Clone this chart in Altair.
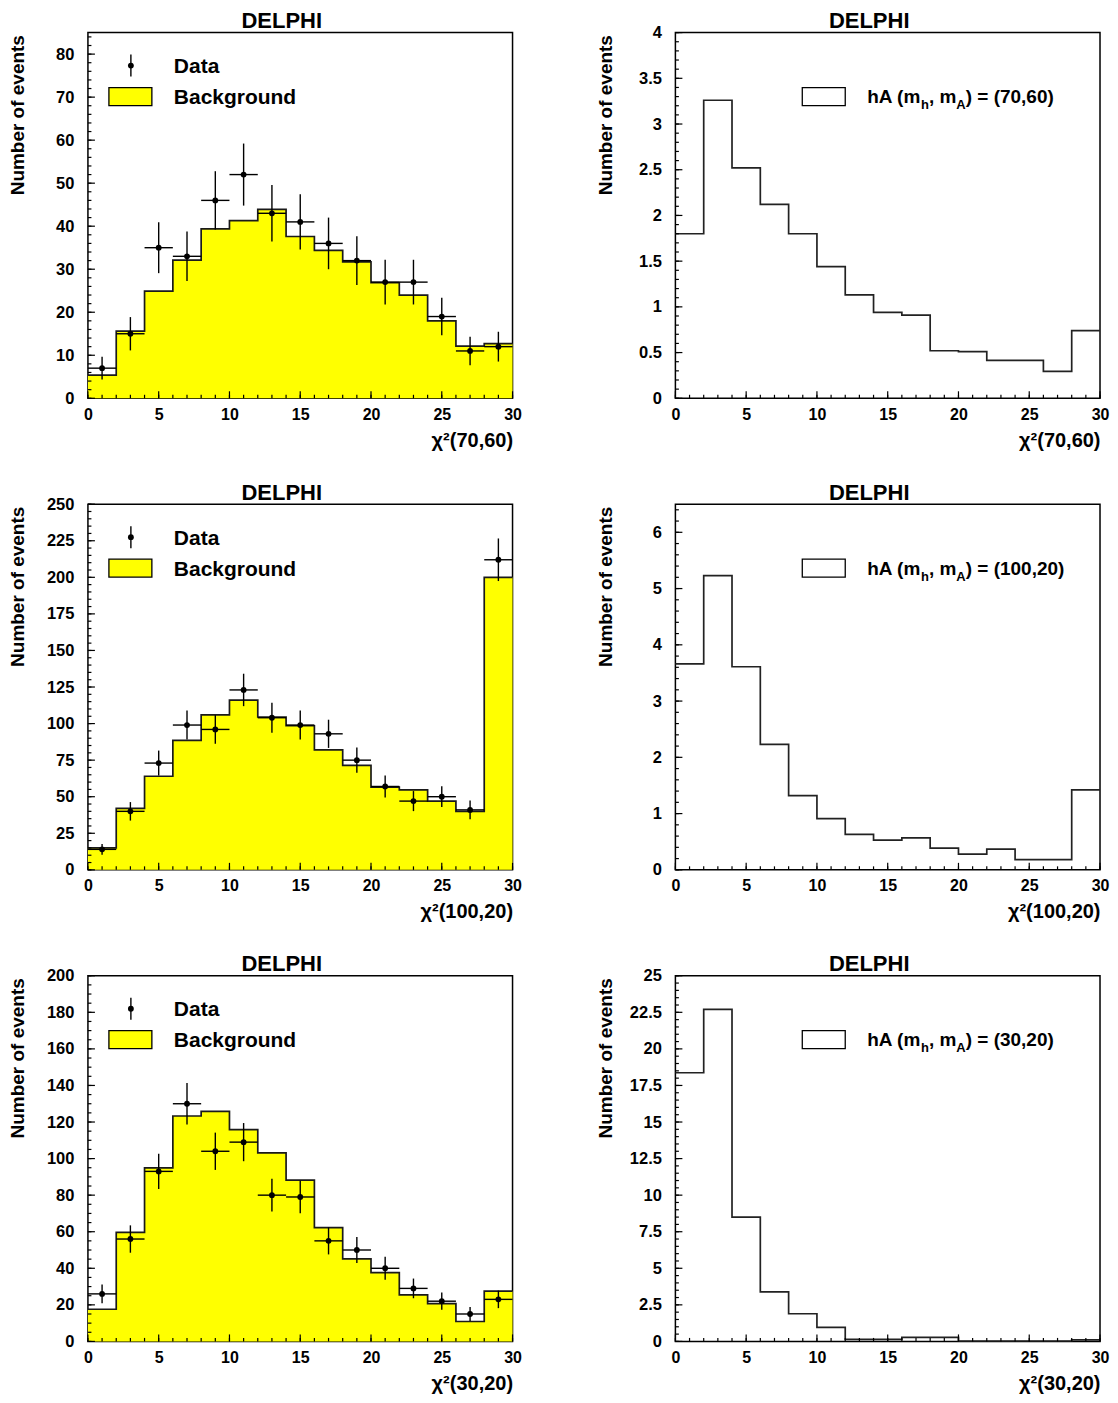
import altair as alt
import numpy as np
import pandas as pd

FONT = "Liberation Sans"
W, H = 425, 366

# ---------------- data ----------------
bin_lo = [0, 2, 4, 6, 8, 10, 12, 14, 16, 18, 20, 22, 24, 26, 28]
bin_hi = [2, 4, 6, 8, 10, 12, 14, 16, 18, 20, 22, 24, 26, 28, 30]
x_tick_labels = [0, 5, 10, 15, 20, 25, 30]

bg_70_60 = [5.4, 15.6, 24.9, 32.1, 39.4, 41.3, 43.9, 37.6, 34.4, 31.7, 26.9, 24.0, 18.0, 12.1, 12.7]
data_70_60 = [7, 15, 35, 33, 46, 52, 43, 41, 36, 32, 27, 27, 19, 11, 12]
sig_70_60 = [1.80, 3.26, 2.52, 2.12, 1.80, 1.44, 1.13, 0.94, 0.91, 0.52, 0.51, 0.415, 0.415, 0.295, 0.74]

bg_100_20 = [15, 42, 64, 88.5, 106, 116, 104.5, 98.5, 82, 71.4, 56.6, 54.7, 47, 40, 200]
data_100_20 = [14, 40, 73, 99, 96, 123, 104, 99, 93, 75, 57, 47, 50, 41, 212]
sig_100_20 = [3.66, 5.23, 3.61, 2.23, 1.32, 0.91, 0.63, 0.53, 0.57, 0.385, 0.28, 0.37, 0.18, 0.18, 1.42]

bg_30_20 = [17.6, 59.6, 94.9, 123.3, 125.8, 115.8, 103.1, 88.2, 62.2, 45.1, 37.6, 25.5, 20.7, 10.9, 27.5]
data_30_20 = [26, 56, 93, 130, 104, 109, 80, 79, 55, 50, 40, 29, 22, 15, 23]
sig_30_20 = [18.37, 22.7, 8.5, 3.39, 1.89, 0.96, 0.14, 0.14, 0.27, 0.27, 0.03, 0.03, 0.03, 0.03, 0.1]

# y axis: (max, label step, minor step)
yaxis_70_60_bg = (85, 10, 2)
yaxis_70_60_sig = (4, 0.5, 0.1)
yaxis_100_20_bg = (250, 25, 5)
yaxis_100_20_sig = (6.5, 1, 0.2)
yaxis_30_20_bg = (200, 20, 5)
yaxis_30_20_sig = (25, 2.5, 0.5)

ONE = pd.DataFrame({"o": [0]})

# ---------------- helpers ----------------
def frange(step, top):
    n = int(np.floor(top / step + 1e-9))
    return [round(i * step, 6) for i in range(n + 1)]


def scales_axes(ycfg, xtitle):
    ymax, ystep, yminor = ycfg
    xs = alt.Scale(domain=[0, 30], nice=False, zero=False)
    ys = alt.Scale(domain=[0, ymax], nice=False, zero=True)
    xaxis = alt.Axis(values=x_tick_labels, ticks=False, domain=False, grid=False,
                     labelFlush=False, labelOverlap=False, labelPadding=8,
                     labelFontSize=16, labelExpr="'' + datum.value",
                     title=xtitle, titleX=W, titleY=42,
                     titleAlign="right", titleBaseline="middle", titleAngle=0,
                     titleFontSize=20)
    yaxis = alt.Axis(values=frange(ystep, ymax), ticks=False, domain=False, grid=False,
                     labelFlush=False, labelOverlap=False, labelPadding=14,
                     labelFontSize=16.5, labelExpr="'' + datum.value",
                     title="Number of events", titleX=-70, titleY=2,
                     titleAlign="right", titleBaseline="middle", titleAngle=-90,
                     titleFontSize=19)
    return xs, ys, xaxis, yaxis


def tick_layers(xs, ys, xaxis, yaxis, ycfg):
    ymax, ystep, yminor = ycfg
    out = []
    xmaj = pd.DataFrame({"t": [0, 5, 10, 15, 20, 25, 30]})
    xmin = pd.DataFrame({"t": list(range(0, 31))})
    ymaj = pd.DataFrame({"t": frange(ystep, ymax)})
    ymin = pd.DataFrame({"t": frange(yminor, ymax)})
    for d, ln in ((xmaj, 7), (xmin, 3.5)):
        out.append(alt.Chart(d).mark_rule(color="black", strokeWidth=1.2).encode(
            x=alt.X("t:Q", scale=xs, axis=xaxis),
            y=alt.value(H), y2=alt.value(H - ln)))
    for d, ln in ((ymaj, 7), (ymin, 3.5)):
        out.append(alt.Chart(d).mark_rule(color="black", strokeWidth=1.2).encode(
            y=alt.Y("t:Q", scale=ys, axis=yaxis),
            x=alt.value(0), x2=alt.value(ln)))
    return out


def step_frame(vals):
    return pd.DataFrame({"x": bin_lo + [30], "y": list(vals) + [vals[-1]]})


def step_layer(vals, xs, ys, xaxis, yaxis, color="#1a1a1a"):
    return alt.Chart(step_frame(vals)).mark_line(interpolate="step-after", color=color,
                                                 strokeWidth=1.7).encode(
        x=alt.X("x:Q", scale=xs, axis=xaxis),
        y=alt.Y("y:Q", scale=ys, axis=yaxis))


def title_layer(txt="DELPHI"):
    return alt.Chart(ONE).mark_text(text=txt, font=FONT, fontSize=22, fontWeight="bold",
                                    align="center", baseline="top",
                                    color="black").encode(
        x=alt.value(194), y=alt.value(-21.5))


def left_panel(bg, data, ycfg, xtitle):
    xs, ys, xaxis, yaxis = scales_axes(ycfg, xtitle)
    df = pd.DataFrame({"lo": bin_lo, "hi": bin_hi, "bg": bg, "n": data})
    df["mid"] = (df["lo"] + df["hi"]) / 2
    X = lambda f: alt.X(f, type="quantitative", scale=xs, axis=xaxis)
    Y = lambda f: alt.Y(f, type="quantitative", scale=ys, axis=yaxis)
    base = alt.Chart(df)
    fill = alt.Chart(step_frame(bg)).mark_area(interpolate="step-after", color="#ffff00",
                                               opacity=1).encode(
        x=alt.X("x:Q", scale=xs, axis=xaxis), y=alt.Y("y:Q", scale=ys, axis=yaxis))
    outline = step_layer(bg, xs, ys, xaxis, yaxis)
    err = base.transform_calculate(
        elo="datum.n - sqrt(datum.n)", ehi="datum.n + sqrt(datum.n)"
    ).mark_rule(color="black", strokeWidth=1.4).encode(
        x=X("mid"), y=Y("elo:Q"), y2="ehi:Q")
    hbar = base.mark_rule(color="black", strokeWidth=1.4).encode(
        x=X("lo"), x2="hi", y=Y("n"))
    pts = base.mark_circle(size=34, color="black", opacity=1).encode(
        x=X("mid"), y=Y("n"))
    # legend
    leg = [
        alt.Chart(ONE).mark_rect(fill="#ffff00", stroke="black", strokeWidth=1.3).encode(
            x=alt.value(21), x2=alt.value(64), y=alt.value(55), y2=alt.value(73)),
        alt.Chart(ONE).mark_rule(color="black", strokeWidth=1.4).encode(
            x=alt.value(43), y=alt.value(22), y2=alt.value(44)),
        alt.Chart(ONE).mark_circle(size=34, color="black", opacity=1).encode(
            x=alt.value(43), y=alt.value(33)),
        alt.Chart(ONE).mark_text(text="Data", font=FONT, fontSize=21, fontWeight="bold",
                                 align="left", baseline="alphabetic", color="black").encode(
            x=alt.value(86), y=alt.value(40.5)),
        alt.Chart(ONE).mark_text(text="Background", font=FONT, fontSize=21, fontWeight="bold",
                                 align="left", baseline="alphabetic", color="black").encode(
            x=alt.value(86), y=alt.value(71.5)),
    ]
    layers = [fill, outline, err, hbar, pts] + tick_layers(xs, ys, xaxis, yaxis, ycfg) + leg
    layers.append(title_layer())
    return alt.layer(*layers).properties(width=W, height=H)


AW = {'h': .611, 'A': .722, ' ': .278, '(': .333, 'm': .889, ',': .278, ')': .333,
      '=': .584}
for c in "0123456789":
    AW[c] = .556


def twidth(s, fs):
    return sum(AW.get(c, .556) for c in s) * fs


def right_panel(sig, ycfg, xtitle, masses):
    xs, ys, xaxis, yaxis = scales_axes(ycfg, xtitle)
    line = step_layer(sig, xs, ys, xaxis, yaxis, color="#222222")
    leg = [alt.Chart(ONE).mark_rect(fill="white", stroke="black", strokeWidth=1.3).encode(
        x=alt.value(127), x2=alt.value(170), y=alt.value(55), y2=alt.value(73))]
    fs, sfs = 19, 13
    pieces = [("hA (m", fs, 70.5), ("h", sfs, 76.5), (", m", fs, 70.5), ("A", sfs, 76.5),
              (") = (" + masses + ")", fs, 70.5)]
    x0 = 192.0
    for s, f, yb in pieces:
        leg.append(alt.Chart(ONE).mark_text(text=s, font=FONT, fontSize=f, fontWeight="bold",
                                            align="left", baseline="alphabetic",
                                            color="black").encode(
            x=alt.value(x0), y=alt.value(yb)))
        x0 += twidth(s, f)
    layers = [line] + tick_layers(xs, ys, xaxis, yaxis, ycfg) + leg + [title_layer()]
    return alt.layer(*layers).properties(width=W, height=H)


p1 = left_panel(bg_70_60, data_70_60, yaxis_70_60_bg, "χ²(70,60)")
p2 = right_panel(sig_70_60, yaxis_70_60_sig, "χ²(70,60)", "70,60")
p3 = left_panel(bg_100_20, data_100_20, yaxis_100_20_bg, "χ²(100,20)")
p4 = right_panel(sig_100_20, yaxis_100_20_sig, "χ²(100,20)", "100,20")
p5 = left_panel(bg_30_20, data_30_20, yaxis_30_20_bg, "χ²(30,20)")
p6 = right_panel(sig_30_20, yaxis_30_20_sig, "χ²(30,20)", "30,20")

chart = alt.concat(p1, p2, p3, p4, p5, p6, columns=2,
                   spacing={"row": 106, "column": 163}, bounds="flush").properties(
    padding={"left": 0, "top": 0, "right": 0, "bottom": 0},
    background="white",
).configure_view(stroke="black", strokeWidth=1.5).configure_axis(
    labelFont=FONT, titleFont=FONT, labelFontWeight="bold", titleFontWeight="bold",
    labelColor="black", titleColor="black")

chart.save("out.html", embed_options={"renderer": "svg", "actions": False})
